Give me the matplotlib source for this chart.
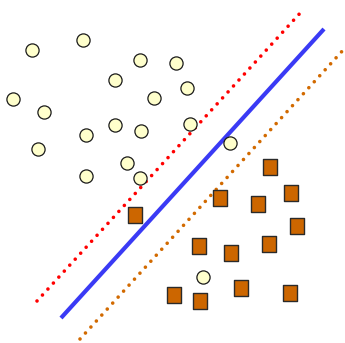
import matplotlib

matplotlib.use("Agg")
import matplotlib.pyplot as plt
from matplotlib.path import Path

# class A (circles), pixel coordinates of the original picture
circle_x = [32, 83, 140, 176, 115, 13, 44, 154, 187, 115, 86, 141, 190, 38, 127, 86, 140, 230, 203]
circle_y = [50, 40, 60, 63, 80, 99, 112, 98, 88, 125, 135, 131, 124, 149, 163, 176, 178, 143, 277]

# class B (squares)
square_x = [270, 220, 258, 291, 297, 135, 199, 231, 269, 241, 290, 200, 174]
square_y = [167, 198, 204, 193, 226, 215, 246, 253, 244, 288, 293, 301, 295]

# separating hyperplane and margins: (x0, y0) -> (x1, y1)
hyperplane_x = [61, 324]
hyperplane_y = [318, 29]
margin_upper_x = [37, 302]
margin_upper_y = [301, 11]
margin_lower_x = [80, 345]
margin_lower_y = [339, 48]

fig = plt.figure(figsize=(3.45, 3.43), dpi=100)
fig.patch.set_facecolor("white")
ax = fig.add_axes([0, 0, 1, 1])
ax.set_xlim(0, 345)
ax.set_ylim(343, 0)
ax.axis("off")

dot_lw = 2.6
ax.plot(
    margin_upper_x,
    margin_upper_y,
    color="#ff0000",
    linewidth=dot_lw,
    dashes=(0.01, 5.8 / dot_lw),
    dash_capstyle="round",
    zorder=1,
)
ax.plot(
    margin_lower_x,
    margin_lower_y,
    color="#d26a00",
    linewidth=dot_lw,
    dashes=(0.01, 5.8 / dot_lw),
    dash_capstyle="round",
    zorder=1,
)
ax.plot(
    hyperplane_x,
    hyperplane_y,
    color="#3a3af5",
    linewidth=3.0,
    solid_capstyle="butt",
    zorder=2,
)

ax.scatter(
    circle_x,
    circle_y,
    s=90,
    marker="o",
    facecolor="#ffffcc",
    edgecolor="#1a1a1a",
    linewidth=0.9,
    zorder=3,
)

rect = Path([(-0.43, -0.5), (0.43, -0.5), (0.43, 0.5), (-0.43, 0.5), (-0.43, -0.5)], closed=True)
ax.scatter(
    square_x,
    square_y,
    s=124,
    marker=rect,
    facecolor="#cc6600",
    edgecolor="#2a2a2a",
    linewidth=1.0,
    zorder=3,
)

fig.savefig("out.png", dpi=100)
plt.close(fig)
